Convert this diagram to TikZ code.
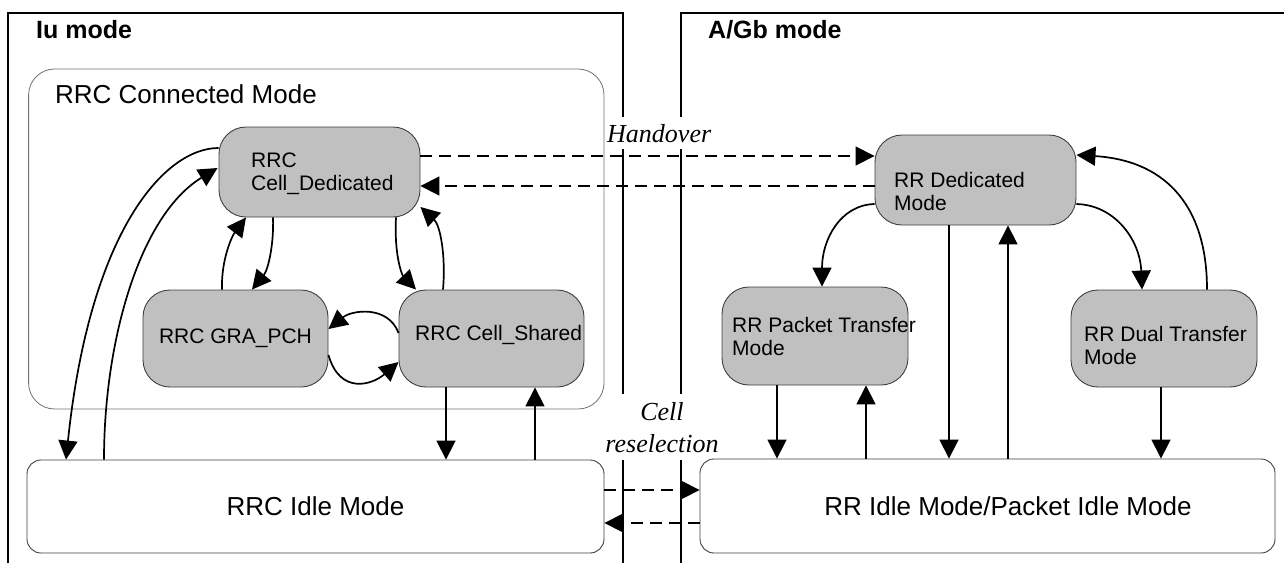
\documentclass[tikz,border=0pt]{standalone}
\usepackage{fontspec}
\setmainfont{Liberation Sans}
\newfontfamily\tnr{Liberation Serif}
\usetikzlibrary{arrows.meta,calc}
\definecolor{boxgray}{HTML}{C0C0C0}
\definecolor{edgegray}{HTML}{404040}
\definecolor{framegray}{HTML}{707070}
\begin{document}
\begin{tikzpicture}[x=1pt,y=-1pt,
  frameline/.style={line width=1.4pt},
  statebox/.style={draw=edgegray, fill=boxgray, rounded corners=27pt, line width=0.9pt, inner sep=0pt, font=\fontsize{21}{23}\selectfont},
  idlebox/.style={draw=edgegray, fill=white, rounded corners=14pt, line width=0.9pt, inner sep=0pt, font=\fontsize{26}{30}\selectfont},
  smalltxt/.style={inner sep=0pt, anchor=base west, align=left, font=\fontsize{21}{23}\selectfont},
  bigtxt/.style={inner sep=0pt, font=\fontsize{26}{30}\selectfont},
  titletxt/.style={inner sep=0pt, anchor=base west, font=\bfseries\fontsize{25}{30}\selectfont},
  edgelabel/.style={fill=white, inner xsep=3pt, text depth=0pt, font=\tnr\itshape\fontsize{26}{32}\selectfont},
  trans/.style={line width=1.7pt, -{Triangle[length=19pt,width=19pt]}},
  dashtrans/.style={trans, dash pattern=on 12pt off 7pt}
]
\useasboundingbox (0,0) rectangle (1284,563);

% mode frames
\draw[frameline] (8,563) -- (8,13) -- (623,13) -- (623,563);
\draw[frameline] (681,563) -- (681,13) -- (1284,13);
\node[titletxt] (iut) at (36,38) {Iu mode};
\node[titletxt] (agbt) at (708,38) {A/Gb mode};

% labels covering the frame lines
\node[edgelabel, anchor=base west, inner ysep=7pt] (ho) at (604,142) {Handover};
\node[edgelabel, anchor=base, align=center, inner ysep=8pt] (cr) at (662,452) {Cell\\reselection};

% RRC connected mode container
\node[draw=framegray, line width=0.8pt, rounded corners=26pt, minimum width=575.4pt, minimum height=340pt, inner sep=0pt] (cm) at (316.3,239) {};
\node[bigtxt, anchor=base west] (cmt) at (55,103) {RRC Connected Mode};

% states
\node[statebox, minimum width=201pt, minimum height=90pt] (ded) at (319.5,172) {};
\node[smalltxt] (dedt) at (251,190) {RRC\\Cell\_Dedicated};
\node[statebox, minimum width=185pt, minimum height=97pt] (gra) at (235.5,338.5) {RRC GRA\_PCH};
\node[statebox, minimum width=185pt, minimum height=97pt] (sha) at (491.5,338.5) {};
\node[smalltxt] (shat) at (415,340) {RRC Cell\_Shared};
\node[idlebox, minimum width=577pt, minimum height=93pt] (ridle) at (315.5,506.5) {RRC Idle Mode};

\node[statebox, minimum width=201pt, minimum height=90pt] (rrded) at (975.5,180) {};
\node[smalltxt] (rrdedt) at (894,210) {RR Dedicated\\Mode};
\node[statebox, minimum width=186pt, minimum height=98pt] (ptm) at (815,336) {};
\node[smalltxt] (ptmt) at (732,355) {RR Packet Transfer\\Mode};
\node[statebox, minimum width=186pt, minimum height=97pt] (dtm) at (1164,338.5) {};
\node[smalltxt] (dtmt) at (1084,364) {RR Dual Transfer\\Mode};
\node[idlebox, minimum width=575pt, minimum height=94pt] (rridle) at (987.5,506) {};
\node[bigtxt, anchor=base] (rridlet) at (1008,515) {RR Idle Mode/Packet Idle Mode};

% Iu transitions
\draw[trans] ($(ded.west)+(0,-24)$) .. controls (165,148) and (90,230) .. ($(ridle.north)+(-249.5,0)$);
\draw[trans] ($(ridle.north)+(-211.5,0)$) .. controls (104,340) and (140,215) .. ($(ded.west)+(-1,-4)$);
\draw[trans] ($(ded.south)+(-46.5,0)$) .. controls (274,245) and (268,270) .. ($(gra.north)+(16.5,0)$);
\draw[trans] ($(gra.north)+(-13.5,0)$) .. controls (221,260) and (232,236) .. ($(ded.south)+(-73.5,0)$);
\draw[trans] ($(ded.south)+(76.5,0)$) .. controls (394,255) and (402,275) .. ($(sha.north)+(-75.5,0)$);
\draw[trans] ($(sha.north)+(-48.5,0)$) .. controls (446,255) and (440,225) .. ($(ded.east)+(0,35)$);
\draw[trans] ($(sha.west)+(0,-5.5)$) .. controls (388,305) and (352,310) .. ($(gra.east)+(0,-9.5)$);
\draw[trans] ($(gra.east)+(0,16.5)$) .. controls (340,395) and (372,385) .. ($(sha.west)+(0,23.5)$);
\draw[trans] ($(sha.south)+(-45.5,0)$) -- ($(ridle.north)+(130.5,0)$);
\draw[trans] ($(ridle.north)+(219.5,0)$) -- ($(sha.south)+(43.5,0)$);

% inter-system
\draw[dashtrans] ($(ded.east)+(0,-16)$) -- ($(rrded.west)+(0,-24)$);
\draw[dashtrans] ($(rrded.west)+(0,6)$) -- ($(ded.east)+(0,14)$);
\draw[dashtrans] ($(ridle.east)+(0,-16.5)$) -- ($(rridle.west)+(0,-16)$);
\draw[dashtrans] ($(rridle.west)+(0,17)$) -- ($(ridle.east)+(0,16.5)$);

% A/Gb transitions
\draw[trans] ($(rrded.west)+(0,24)$) .. controls (840,205) and (822,240) .. ($(ptm.north)+(7,0)$);
\draw[trans] ($(rrded.east)+(0,24)$) .. controls (1115,205) and (1140,240) .. ($(dtm.north)+(-22,0)$);
\draw[trans] ($(dtm.north)+(43,0)$) .. controls (1207,200) and (1160,160) .. ($(rrded.east)+(0,-25)$);
\draw[trans] ($(rrded.south)+(-26.5,0)$) -- ($(rridle.north)+(-38.5,0)$);
\draw[trans] ($(rridle.north)+(20.5,0)$) -- ($(rrded.south)+(32.5,0)$);
\draw[trans] ($(ptm.south)+(-38,0)$) -- ($(rridle.north)+(-210.5,0)$);
\draw[trans] ($(rridle.north)+(-121.5,0)$) -- ($(ptm.south)+(51,0)$);
\draw[trans] ($(dtm.south)+(-3,0)$) -- ($(rridle.north)+(173.5,0)$);
\end{tikzpicture}
\end{document}
